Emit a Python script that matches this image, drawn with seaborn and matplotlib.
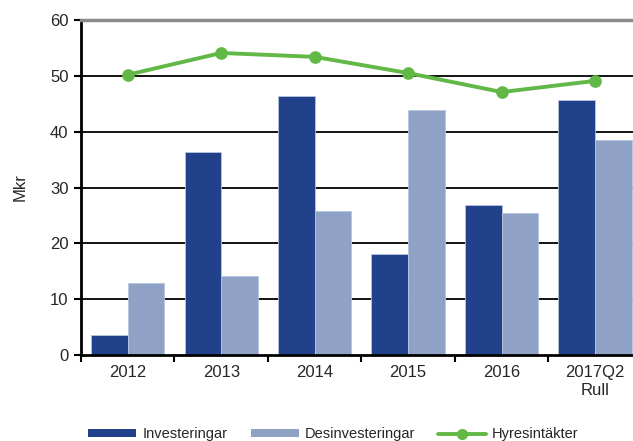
import pandas as pd
import matplotlib.pyplot as plt
import seaborn as sns
from matplotlib.patches import Patch
from matplotlib.lines import Line2D

# Data (Mkr)
years = ['2012', '2013', '2014', '2015', '2016', '2017Q2\nRull']
investeringar = [3.5, 36.4, 46.4, 18.1, 26.9, 45.7]
desinvesteringar = [12.9, 14.1, 25.8, 43.9, 25.4, 38.5]
hyresintakter = [50.2, 54.1, 53.4, 50.5, 47.1, 49.1]

dark_blue = '#21418A'
light_blue = '#8FA2C6'
green = '#62B846'

sns.set_style('white')
plt.rcParams['font.family'] = ['Liberation Sans', 'DejaVu Sans']

bars = pd.DataFrame({
    'year': years * 2,
    'value': investeringar + desinvesteringar,
    'serie': ['Investeringar'] * 6 + ['Desinvesteringar'] * 6,
})

fig = plt.figure(figsize=(6.33, 4.41), dpi=100)
ax = fig.add_axes([0.128, 0.195, 0.886, 0.7596])

# Horizontal grid lines drawn behind the bars
for v in [10, 20, 30, 40, 50]:
    ax.axhline(v, color='black', lw=1.3, zorder=0)

sns.barplot(data=bars, x='year', y='value', hue='serie', order=years,
            palette=[dark_blue, light_blue], saturation=1, width=0.785, gap=0,
            edgecolor='#B8C4E0', linewidth=0.6, legend=False, ax=ax, zorder=2)

sns.pointplot(x=years, y=hyresintakter, order=years, color=green,
              markers='o', markersize=7, linewidth=2.8, ax=ax, zorder=3)

ax.set_ylim(0, 60)
ax.set_xlim(-0.5, 5.5)
ax.set_yticks(range(0, 61, 10))
ax.set_ylabel('Mkr', fontsize=12, labelpad=16)
ax.set_xlabel('')

# Tick marks between categories, labels at centers
ax.set_xticks(range(6))
ax.set_xticklabels(years, fontsize=12, linespacing=1.25)
ax.set_xticks([i - 0.5 for i in range(7)], minor=True)
ax.tick_params(axis='x', which='major', length=0, pad=7)
ax.tick_params(axis='x', which='minor', length=5, width=1.5, color='black',
               direction='out')
ax.tick_params(axis='y', length=5, width=1.5, color='black', direction='out',
               labelsize=12, pad=4)
ax.yaxis.set_ticks_position('left')
ax.xaxis.set_ticks_position('bottom')

for side in ['left', 'bottom']:
    ax.spines[side].set_color('black')
    ax.spines[side].set_linewidth(2)
ax.spines['top'].set_color('#8A8A8A')
ax.spines['top'].set_linewidth(2.5)
ax.spines['right'].set_visible(False)

handles = [
    Patch(facecolor=dark_blue, edgecolor='none'),
    Patch(facecolor=light_blue, edgecolor='none'),
    Line2D([0], [0], color=green, lw=2.8, marker='o', markersize=7),
]
fig.legend(handles, ['Investeringar', 'Desinvesteringar', 'Hyresintäkter'],
           loc='center', bbox_to_anchor=(0.527, 0.015), ncol=3, frameon=False,
           fontsize=10.5, handlelength=3.3, handleheight=0.5,
           columnspacing=1.6, handletextpad=0.4)

fig.savefig('out.png', dpi=100)
